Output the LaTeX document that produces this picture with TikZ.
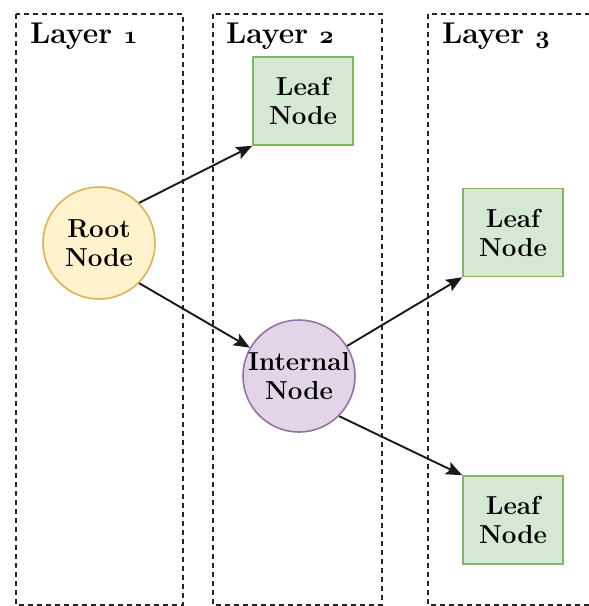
\documentclass[tikz,border=0pt]{standalone}
\usetikzlibrary{arrows.meta}
\definecolor{rootfill}{HTML}{FFF2CC}
\definecolor{rootline}{HTML}{D6B656}
\definecolor{intfill}{HTML}{E1D5E7}
\definecolor{intline}{HTML}{9673A6}
\definecolor{leaffill}{HTML}{D5E8D4}
\definecolor{leafline}{HTML}{82B366}
\newcommand{\osnum}[1]{{\usefont{OML}{cmm}{b}{it}#1}}
\tikzset{
  layerbox/.style={draw=black!85, line width=1.4pt, dash pattern=on 5pt off 4pt},
  layerlabel/.style={anchor=base west, inner sep=0pt, font=\fontsize{30}{34}\selectfont\bfseries},
  nodetext/.style={align=center, font=\fontsize{26}{29}\selectfont\bfseries},
  rootnode/.style={nodetext, circle, draw=rootline, fill=rootfill, line width=1.6pt, minimum size=112pt, inner sep=0pt},
  intnode/.style={nodetext, circle, draw=intline, fill=intfill, line width=1.6pt, minimum size=112pt, inner sep=0pt},
  leafnode/.style={nodetext, rectangle, draw=leafline, fill=leaffill, line width=1.6pt, minimum width=100pt, minimum height=88pt, inner sep=0pt},
  link/.style={draw=black!90, line width=1.9pt, -{Stealth[length=16pt,width=13pt,inset=3pt]}}
}
\begin{document}
\begin{tikzpicture}[x=1pt,y=-1pt]
\useasboundingbox (0,0) rectangle (589,606);
\clip (0,0) rectangle (589,606);
\fill[white] (0,0) rectangle (589,606);
% layers
\draw[layerbox] (16,14) rectangle (183,605);
\draw[layerbox] (213,14) rectangle (382,605);
\draw[layerbox] (428,14) rectangle (620,605);
\node[layerlabel] (l1) at (30,43) {Layer \osnum{1}};
\node[layerlabel] (l2) at (226,43) {Layer \osnum{2}};
\node[layerlabel] (l3) at (442,43) {Layer \osnum{3}};
% nodes
\node[rootnode] (root) at (99,243) {\rule{0pt}{18pt}Root\\Node};
\node[intnode] (int) at (299,376) {Internal\\Node};
\node[leafnode] (leafa) at (303,101) {Leaf\\Node};
\node[leafnode] (leafb) at (513,232.5) {Leaf\\Node};
\node[leafnode] (leafc) at (513,520) {Leaf\\Node};
% links
\draw[link] (root.45) -- (leafa.south west);
\draw[link] (root.-45) -- (int.150);
\draw[link] (int.32) -- (leafb.south west);
\draw[link] (int.-45) -- (leafc.north west);
\end{tikzpicture}
\end{document}
